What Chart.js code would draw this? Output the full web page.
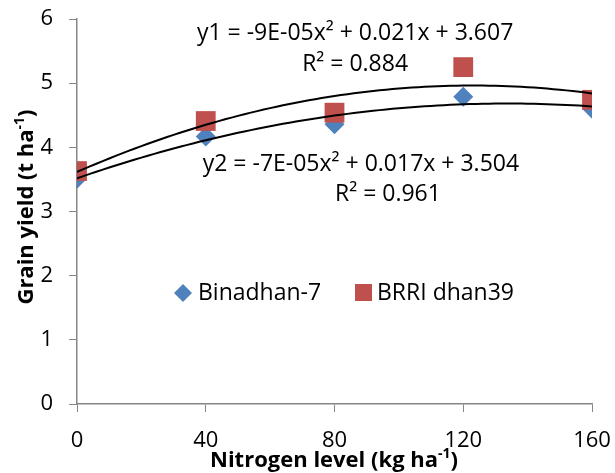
<!DOCTYPE html>
<html>
<head>
<meta charset="utf-8">
<script src="https://cdn.jsdelivr.net/npm/chart.js@4.4.0/dist/chart.umd.min.js"></script>
<style>
html, body { margin: 0; padding: 0; background: #fff; }
#wrap { width: 615px; height: 473px; position: relative; }
</style>
</head>
<body>
<div id="wrap"><canvas id="chart"></canvas></div>
<script>
// values
const nitrogen = [0, 40, 80, 120, 160];
const binadhan7 = [3.51, 4.17, 4.36, 4.79, 4.60];
const brriDhan39 = [3.63, 4.41, 4.54, 5.25, 4.74];
const seriesNames = ["Binadhan-7", "BRRI dhan39"];
const eqLabels = ["y1 = -9E-05x² + 0.021x + 3.607", "R² = 0.884", "y2 = -7E-05x² + 0.017x + 3.504", "R² = 0.961"];

const FONT = "'Open Sans', sans-serif";
const BLUE = "#4F81BD";
const RED = "#C0504D";
const AXIS = "#868686";

// least squares quadratic, like Excel's polynomial trendline
const quadFit = (xs, ys) => {
    const s = [0, 0, 0, 0, 0], t = [0, 0, 0];
    xs.forEach((x, i) => {
        for (let k = 0; k < 5; k++) s[k] += Math.pow(x, k);
        for (let k = 0; k < 3; k++) t[k] += Math.pow(x, k) * ys[i];
    });
    const m = [[s[0], s[1], s[2], t[0]], [s[1], s[2], s[3], t[1]], [s[2], s[3], s[4], t[2]]];
    for (let c = 0; c < 3; c++) {
        for (let r = c + 1; r < 3; r++) {
            const f = m[r][c] / m[c][c];
            for (let k = c; k < 4; k++) m[r][k] -= f * m[c][k];
        }
    }
    const b = [0, 0, 0];
    for (let r = 2; r >= 0; r--) {
        let v = m[r][3];
        for (let k = r + 1; k < 3; k++) v -= m[r][k] * b[k];
        b[r] = v / m[r][r];
    }
    return x => b[0] + b[1] * x + b[2] * x * x;
};

const curve = ys => {
    const f = quadFit(nitrogen, ys);
    const pts = [];
    for (let x = nitrogen[0]; x <= nitrogen[nitrogen.length - 1]; x += 2) pts.push({ x, y: f(x) });
    return pts;
};

const toPoints = ys => nitrogen.map((x, i) => ({ x, y: ys[i] }));

// text with superscript parts, centred on (x, y)
const drawRich = (ctx, parts, x, y, size, bold) => {
    const big = (bold ? "bold " : "") + size + "px " + FONT;
    const small = (bold ? "bold " : "") + Math.round(size * 0.62) + "px " + FONT;
    let w = 0;
    parts.forEach(p => { ctx.font = p.sup ? small : big; w += ctx.measureText(p.t).width; });
    let cx = x - w / 2;
    ctx.textBaseline = "middle";
    ctx.textAlign = "left";
    parts.forEach(p => {
        ctx.font = p.sup ? small : big;
        ctx.fillText(p.t, cx, p.sup ? y - size * 0.32 : y);
        cx += ctx.measureText(p.t).width;
    });
};

const extras = {
    id: "extras",
    afterDraw(chart) {
        const { ctx, scales: { x, y } } = chart;
        ctx.save();
        ctx.fillStyle = "#000";
        ctx.font = "23px " + FONT;
        ctx.textAlign = "center";
        ctx.textBaseline = "middle";
        ctx.fillText(eqLabels[0], x.getPixelForValue(86.4), y.getPixelForValue(5.78));
        ctx.fillText(eqLabels[1], x.getPixelForValue(86.4), y.getPixelForValue(5.29));
        ctx.fillText(eqLabels[2], x.getPixelForValue(88.2), y.getPixelForValue(3.74));
        ctx.fillText(eqLabels[3], x.getPixelForValue(96.6), y.getPixelForValue(3.27));

        // legend
        const ly = 293;
        ctx.fillStyle = BLUE;
        ctx.beginPath();
        ctx.moveTo(183, ly - 9);
        ctx.lineTo(192, ly);
        ctx.lineTo(183, ly + 9);
        ctx.lineTo(174, ly);
        ctx.closePath();
        ctx.fill();
        ctx.fillStyle = RED;
        ctx.fillRect(355, ly - 9, 17, 17);
        ctx.fillStyle = "#000";
        ctx.font = "23px " + FONT;
        ctx.textAlign = "left";
        ctx.fillText(seriesNames[0], 198, ly);
        ctx.fillText(seriesNames[1], 377, ly);

        // axis titles
        drawRich(ctx, [{ t: "Nitrogen level (kg ha" }, { t: "-1", sup: true }, { t: ")" }], 334, 461, 22, true);
        ctx.translate(27, 207);
        ctx.rotate(-Math.PI / 2);
        drawRich(ctx, [{ t: "Grain yield (t ha" }, { t: "-1", sup: true }, { t: ")" }], 0, 0, 22, true);
        ctx.restore();
    }
};

new Chart(document.getElementById("chart"), {
    type: "scatter",
    data: {
        datasets: [
            { label: "trend2", data: curve(brriDhan39), showLine: true, borderColor: "#000", borderWidth: 2, pointRadius: 0, order: 0 },
            { label: "trend1", data: curve(binadhan7), showLine: true, borderColor: "#000", borderWidth: 2, pointRadius: 0, order: 0 },
            { label: seriesNames[1], data: toPoints(brriDhan39), pointStyle: "rect", pointRadius: 14, backgroundColor: RED, borderColor: RED, borderWidth: 0, order: 1 },
            { label: seriesNames[0], data: toPoints(binadhan7), pointStyle: "rectRot", pointRadius: 10, backgroundColor: BLUE, borderColor: BLUE, borderWidth: 0, order: 2 }
        ]
    },
    options: {
        responsive: true,
        maintainAspectRatio: false,
        animation: false,
        layout: { padding: { top: 19, right: 23, left: 0, bottom: 0 } },
        plugins: { legend: { display: false }, tooltip: { enabled: false } },
        scales: {
            x: {
                min: 0, max: 160,
                afterFit: s => { s.height = 69; s.paddingLeft = 0; s.paddingRight = 0; },
                ticks: { stepSize: 40, color: "#000", font: { family: FONT, size: 22 }, padding: 16, maxRotation: 0 },
                grid: { drawOnChartArea: false, tickLength: 8, color: AXIS },
                border: { color: AXIS, width: 1.5 }
            },
            y: {
                min: 0, max: 6,
                afterFit: s => { s.width = 77; s.paddingTop = 0; s.paddingBottom = 0; },
                ticks: { stepSize: 1, color: "#000", font: { family: FONT, size: 22 }, padding: 16 },
                grid: { drawOnChartArea: false, tickLength: 8, color: AXIS },
                border: { color: AXIS, width: 1.5 }
            }
        }
    },
    plugins: [extras]
});
</script>
</body>
</html>
